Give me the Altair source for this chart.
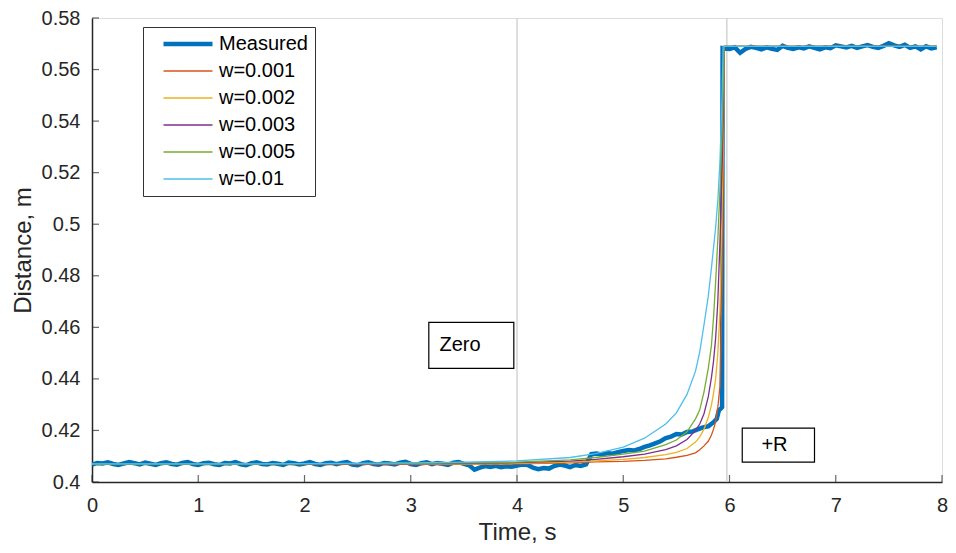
import altair as alt
import pandas as pd

series_names = ["Measured", "w=0.001", "w=0.002", "w=0.003", "w=0.005", "w=0.01"]
series_colors = ["#0072BD", "#D95319", "#EDB120", "#7E2F8E", "#77AC30", "#4DBEEE"]
series_widths = [4.5, 1.3, 1.3, 1.3, 1.3, 1.3]

measured_t = [
    0.00, 0.05, 0.10, 0.15, 0.20, 0.25, 0.30, 0.35, 0.40, 0.45, 0.50, 0.55, 0.60, 0.65, 0.70, 0.75, 0.80, 0.85, 0.90, 0.95,
    1.00, 1.05, 1.10, 1.15, 1.20, 1.25, 1.30, 1.35, 1.40, 1.45, 1.50, 1.55, 1.60, 1.65, 1.70, 1.75, 1.80, 1.85, 1.90, 1.95,
    2.00, 2.05, 2.10, 2.15, 2.20, 2.25, 2.30, 2.35, 2.40, 2.45, 2.50, 2.55, 2.60, 2.65, 2.70, 2.75, 2.80, 2.85, 2.90, 2.95,
    3.00, 3.05, 3.10, 3.15, 3.20, 3.25, 3.30, 3.35, 3.40, 3.45, 3.50, 3.55, 3.60, 3.65, 3.70, 3.75, 3.80, 3.85, 3.90, 3.95,
    4.00, 4.05, 4.10, 4.15, 4.20, 4.25, 4.30, 4.35, 4.40, 4.45, 4.50, 4.55, 4.60, 4.65,
    4.70, 4.75, 4.80, 4.85, 4.90, 4.95, 5.00, 5.05, 5.10, 5.15, 5.20, 5.25, 5.30, 5.35, 5.40, 5.45, 5.50, 5.55, 5.60, 5.65,
    5.70, 5.75, 5.80, 5.85, 5.88, 5.90, 5.92, 5.93, 5.935,
    5.95, 6.00, 6.05, 6.10, 6.15, 6.20, 6.25, 6.30, 6.35, 6.40, 6.45, 6.50, 6.55, 6.60, 6.65, 6.70, 6.75, 6.80, 6.85, 6.90,
    6.95, 7.00, 7.05, 7.10, 7.15, 7.20, 7.25, 7.30, 7.35, 7.40, 7.45, 7.50, 7.55, 7.60, 7.65, 7.70, 7.75, 7.80, 7.85, 7.90, 7.95,
]
measured_y = [
    0.4068, 0.4074, 0.4072, 0.4076, 0.4070, 0.4066, 0.4072, 0.4077, 0.4073, 0.4068, 0.4075, 0.4071, 0.4066, 0.4073, 0.4076, 0.4070, 0.4067, 0.4074, 0.4077, 0.4070,
    0.4066, 0.4073, 0.4075, 0.4069, 0.4066, 0.4074, 0.4072, 0.4077, 0.4069, 0.4065, 0.4073, 0.4076, 0.4070, 0.4068, 0.4074, 0.4071, 0.4066, 0.4075, 0.4073, 0.4068,
    0.4072, 0.4077, 0.4070, 0.4066, 0.4073, 0.4075, 0.4069, 0.4074, 0.4077, 0.4068, 0.4065, 0.4073, 0.4076, 0.4070, 0.4067, 0.4074, 0.4072, 0.4068, 0.4075, 0.4078,
    0.4070, 0.4066, 0.4073, 0.4076, 0.4069, 0.4074, 0.4071, 0.4066, 0.4075, 0.4077, 0.4070, 0.4065, 0.4048, 0.4056, 0.4062, 0.4058, 0.4063, 0.4057, 0.4061, 0.4059,
    0.4064, 0.4068, 0.4066, 0.4056, 0.4050, 0.4054, 0.4052, 0.4062, 0.4068, 0.4064, 0.4058, 0.4066, 0.4062, 0.4068,
    0.4108, 0.4110, 0.4106, 0.4112, 0.4110, 0.4116, 0.4120, 0.4124, 0.4122, 0.4128, 0.4136, 0.4142, 0.4150, 0.4158, 0.4170, 0.4176, 0.4186, 0.4184, 0.4194, 0.4196,
    0.4204, 0.4212, 0.4216, 0.4232, 0.4245, 0.4278, 0.4285, 0.4290, 0.5683,
    0.5682, 0.5680, 0.5686, 0.5665, 0.5680, 0.5688, 0.5684, 0.5678, 0.5686, 0.5680, 0.5676, 0.5692, 0.5684, 0.5680, 0.5686, 0.5682, 0.5690, 0.5684, 0.5678, 0.5686,
    0.5683, 0.5694, 0.5690, 0.5686, 0.5692, 0.5684, 0.5690, 0.5695, 0.5688, 0.5684, 0.5692, 0.5702, 0.5694, 0.5688, 0.5696, 0.5684, 0.5690, 0.5678, 0.5690, 0.5682, 0.5686,
]

fit_t = [0, 1, 2, 3, 3.5, 4, 4.5, 4.74, 5.0, 5.2, 5.4, 5.5, 5.6, 5.68, 5.72, 5.76, 5.8, 5.83, 5.85,
         5.87, 5.89, 5.91, 5.93, 5.94, 5.95, 6.5, 7.0, 7.5, 7.95]
fit_w001 = [0.4068, 0.4068, 0.4068, 0.4068, 0.4069, 0.4070, 0.4074, 0.4078, 0.4080, 0.4084, 0.4090, 0.4096, 0.4103,
            0.4113, 0.4125, 0.4140, 0.4158, 0.4182, 0.4205, 0.4235, 0.4290, 0.4370, 0.4750, 0.5150, 0.5690,
            0.5690, 0.5690, 0.5690, 0.5690]
fit_w002 = [0.4068, 0.4068, 0.4068, 0.4069, 0.4070, 0.4072, 0.4077, 0.4082, 0.4088, 0.4095, 0.4106, 0.4115, 0.4130,
            0.4155, 0.4175, 0.4205, 0.4250, 0.4298, 0.4345, 0.4400, 0.4500, 0.4660, 0.5050, 0.5300, 0.5690,
            0.5690, 0.5690, 0.5690, 0.5690]
fit_w003 = [0.4068, 0.4068, 0.4069, 0.4070, 0.4072, 0.4075, 0.4081, 0.4088, 0.4098, 0.4108, 0.4126, 0.4140, 0.4165,
            0.4200, 0.4225, 0.4265, 0.4330, 0.4405, 0.4470, 0.4560, 0.4700, 0.4930, 0.5220, 0.5400, 0.5690,
            0.5690, 0.5690, 0.5690, 0.5690]
fit_w005 = [0.4069, 0.4069, 0.4070, 0.4072, 0.4074, 0.4077, 0.4086, 0.4095, 0.4108, 0.4120, 0.4145, 0.4163, 0.4195,
            0.4245, 0.4280, 0.4350, 0.4440, 0.4530, 0.4640, 0.4780, 0.4940, 0.5130, 0.5350, 0.5500, 0.5690,
            0.5690, 0.5690, 0.5690, 0.5690]
fit_w01 = [0.4070, 0.4070, 0.4071, 0.4074, 0.4077, 0.4082, 0.4095, 0.4110, 0.4135, 0.4170, 0.4225, 0.4268, 0.4340,
           0.4430, 0.4505, 0.4610, 0.4720, 0.4830, 0.4910, 0.4990, 0.5090, 0.5240, 0.5500, 0.5690, 0.5690,
           0.5690, 0.5690, 0.5690, 0.5690]

marker_t = [4.0, 5.975]

note_text = ["Zero", "+R"]
note_x1 = [3.17, 6.12]
note_x2 = [3.97, 6.80]
note_y1 = [0.4619, 0.4209]
note_y2 = [0.4441, 0.4077]
note_tx = [3.27, 6.30]
note_ty = [0.4530, 0.4143]

x_ticks = [0, 1, 2, 3, 4, 5, 6, 7, 8]
y_ticks = [0.40, 0.42, 0.44, 0.46, 0.48, 0.50, 0.52, 0.54, 0.56, 0.58]

rows = []
for t, y in zip(measured_t, measured_y):
    rows.append({"t": t, "d": y, "series": "Measured"})
for name, vals in zip(series_names[1:], [fit_w001, fit_w002, fit_w003, fit_w005, fit_w01]):
    for t, y in zip(fit_t, vals):
        rows.append({"t": t, "d": y, "series": name})
lines_df = pd.DataFrame(rows)

FONT = "Liberation Sans"
INK = "#262626"

xscale = alt.Scale(domain=[0, 8], nice=False, zero=False)
yscale = alt.Scale(domain=[0.4, 0.58], nice=False, zero=False)

x_axis = alt.Axis(values=x_ticks, ticks=False, grid=False, labelFlush=False, labelOverlap=False,
                  format="d", labelFontSize=20, titleFontSize=24, labelPadding=13, titlePadding=5,
                  domainColor=INK, domainWidth=1.5, labelColor=INK, titleColor=INK,
                  titleFontWeight="normal", labelFont=FONT, titleFont=FONT)
y_axis = alt.Axis(values=y_ticks, ticks=False, grid=False, labelFlush=False, labelOverlap=False,
                  format="~g", labelFontSize=20, titleFontSize=24, labelPadding=12, titlePadding=6,
                  domainColor=INK, domainWidth=1.5, labelColor=INK, titleColor=INK,
                  titleFontWeight="normal", labelFont=FONT, titleFont=FONT)

markers = alt.Chart(pd.DataFrame({"t": marker_t})).mark_rule(color="#d4d4d4", strokeWidth=1.5).encode(
    x=alt.X("t:Q", scale=xscale, axis=x_axis, title="Time, s")
)

legend = alt.Legend(title=None, orient="none", legendX=51, legendY=9, direction="vertical",
                    symbolType="M-5,0H5", symbolSize=96, symbolOffset=28, labelOffset=21,
                    labelFontSize=20, labelFont=FONT, labelColor="#000000", rowPadding=7,
                    padding=7, strokeColor="#333333", fillColor="#ffffff", labelLimit=300)

lines = alt.Chart(lines_df).mark_line(clip=True).encode(
    x=alt.X("t:Q", scale=xscale, axis=x_axis, title="Time, s"),
    y=alt.Y("d:Q", scale=yscale, axis=y_axis, title="Distance, m"),
    color=alt.Color("series:N", scale=alt.Scale(domain=series_names, range=series_colors), legend=legend),
    strokeWidth=alt.StrokeWidth("series:N", scale=alt.Scale(type="ordinal", domain=series_names,
                                                            range=series_widths), legend=legend),
    detail="series:N",
)

notes_df = pd.DataFrame({"text": note_text, "x1": note_x1, "x2": note_x2, "y1": note_y1, "y2": note_y2,
                         "tx": note_tx, "ty": note_ty})
note_boxes = alt.Chart(notes_df).mark_rect(fill="white", stroke="#000000", strokeWidth=1.2).encode(
    x=alt.X("x1:Q", scale=xscale), x2="x2:Q", y=alt.Y("y1:Q", scale=yscale), y2="y2:Q"
)
note_texts = alt.Chart(notes_df).mark_text(align="left", baseline="middle", fontSize=20, font=FONT,
                                           color="#000000").encode(
    x=alt.X("tx:Q", scale=xscale), y=alt.Y("ty:Q", scale=yscale), text="text:N"
)

xt = alt.Chart(pd.DataFrame({"v": x_ticks, "b": [0.4] * len(x_ticks)})).mark_tick(
    orient="vertical", size=7, thickness=1.2, color=INK, yOffset=-3.5).encode(
    x=alt.X("v:Q", scale=xscale), y=alt.Y("b:Q", scale=yscale)
)
yt = alt.Chart(pd.DataFrame({"v": y_ticks, "b": [0] * len(y_ticks)})).mark_tick(
    orient="horizontal", size=7, thickness=1.2, color=INK, xOffset=3.5).encode(
    y=alt.Y("v:Q", scale=yscale), x=alt.X("b:Q", scale=xscale)
)

chart = alt.layer(markers, lines, note_boxes, note_texts, xt, yt).properties(
    width=850, height=464,
    autosize=alt.AutoSizeParams(type="none"),
    padding={"left": 84, "top": 10, "right": 6, "bottom": 63},
).configure_view(stroke=None).configure(font=FONT)

chart.save("out.html", embed_options={"renderer": "svg", "actions": False})
